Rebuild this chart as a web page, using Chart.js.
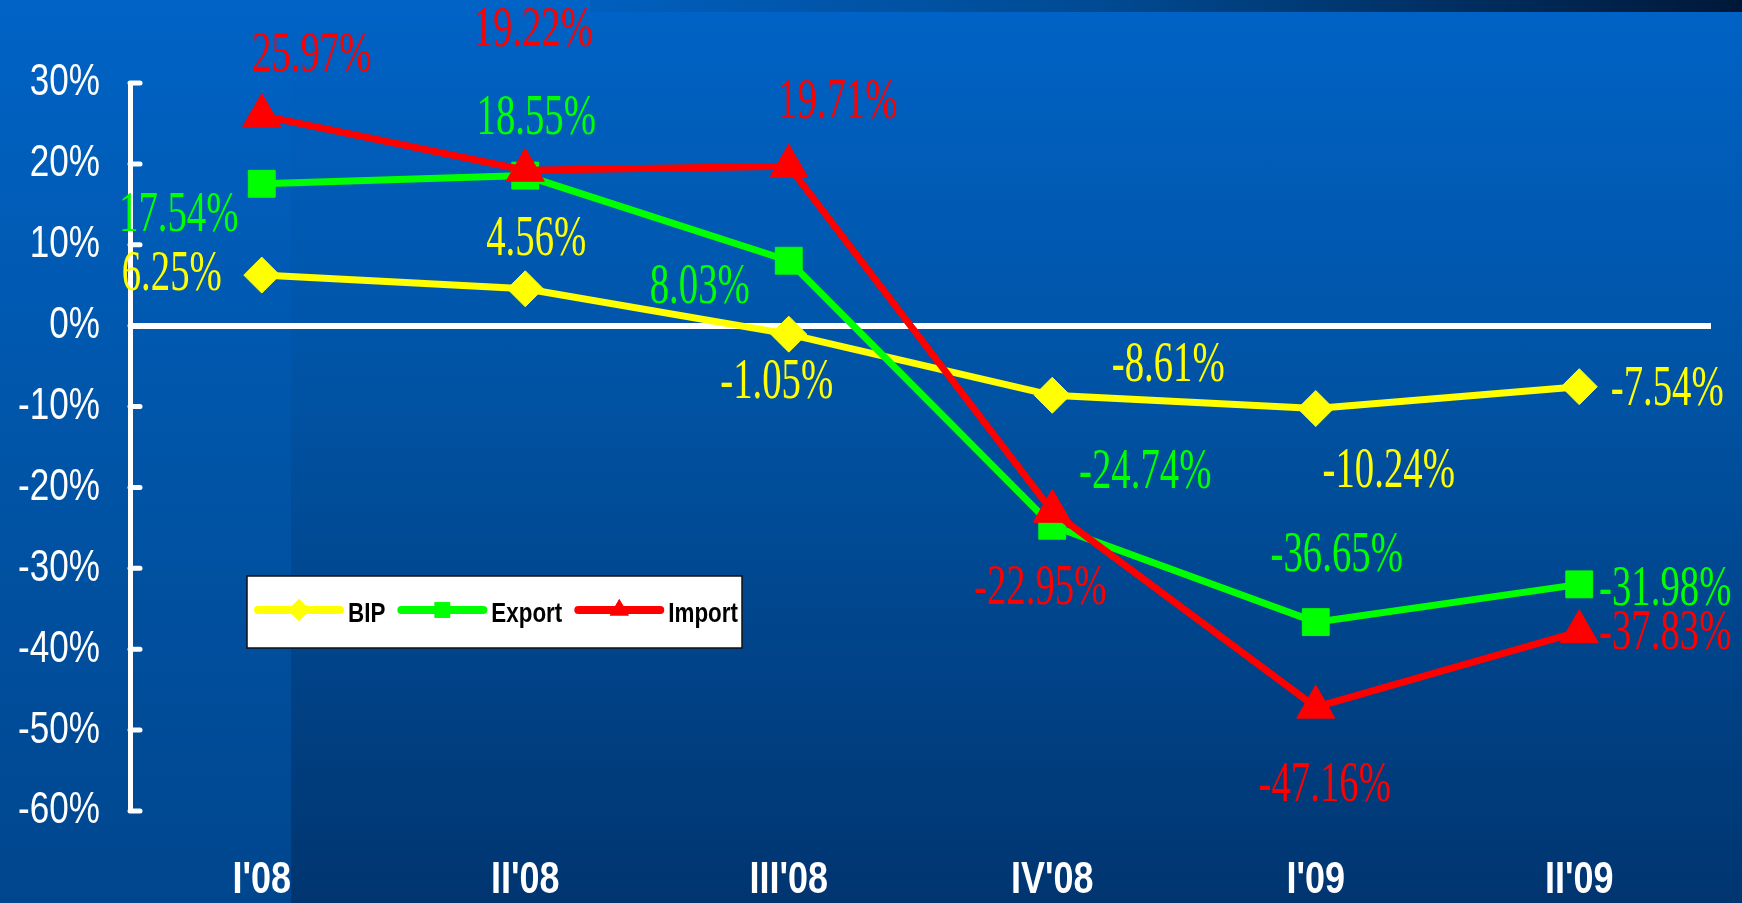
<!DOCTYPE html>
<html>
<head>
<meta charset="utf-8">
<title>BIP, Export, Import</title>
<script src="https://cdn.jsdelivr.net/npm/chart.js@4.4.1/dist/chart.umd.min.js"></script>
<style>
    html, body { margin: 0; padding: 0; }
    body {
        width: 1742px; height: 903px; overflow: hidden; position: relative;
        background: linear-gradient(to bottom, #0063c6 0%, #0052a2 45%, #003570 100%);
    }
    #strip {
        position: absolute; left: 0; top: 0; width: 291px; height: 903px;
        background: linear-gradient(to bottom, #0063c6 0%, #0056aa 45%, #00468e 100%);
    }
    #topbar {
        position: absolute; left: 590px; top: 0; width: 1152px; height: 12px;
        background: linear-gradient(to right, rgba(0, 80, 160, 0.2), #004a92 45%, #001838 100%);
    }
    #wrap { position: absolute; left: 0; top: 0; width: 1742px; height: 903px; }
</style>
</head>
<body>
<div id="strip"></div>
<div id="topbar"></div>
<div id="wrap"><canvas id="growthChart" width="1742" height="903"></canvas></div>
<script>
// Quarterly growth rates
const quarters = ["I'08", "II'08", "III'08", "IV'08", "I'09", "II'09"];
const bipValues = [6.25, 4.56, -1.05, -8.61, -10.24, -7.54];
const exportValues = [17.54, 18.55, 8.03, -24.74, -36.65, -31.98];
const importValues = [25.97, 19.22, 19.71, -22.95, -47.16, -37.83];
const seriesNames = ['BIP', 'Export', 'Import'];
const yMin = -60;
const yMax = 30;
const yStep = 10;

// Where each value label sits relative to its point (px)
const labelOffsets = [
    [[-90, 0], [11, -49], [-12, 49], [116, -29], [73, 64], [88, 3]],
    [[-83, 32], [11, -57], [-89, 27], [93, -53], [21, -66], [86, 6]],
    [[50, -60], [8, -139], [49, -63], [-12, 78], [9, 79], [86, 2]]
];

const sans = '"Liberation Sans", Arial, sans-serif';

// Text squeezed horizontally, like the narrow fonts of the original
function narrowText(ctx, text, x, y, squeeze) {
    ctx.save();
    ctx.translate(x, y);
    ctx.scale(squeeze, 1);
    ctx.fillText(text, 0, 0);
    ctx.restore();
}

// Axis labels and small inward tick stubs
const axisDecor = {
    id: 'axisDecor',
    afterDraw(chart) {
        const ctx = chart.ctx;
        const y = chart.scales.y;
        const x = chart.scales.x;
        const left = chart.chartArea.left;
        ctx.save();
        ctx.strokeStyle = '#ffffff';
        ctx.lineWidth = 5;
        ctx.lineCap = 'round';
        y.ticks.forEach(t => {
            const py = y.getPixelForValue(t.value);
            ctx.beginPath();
            ctx.moveTo(left, py);
            ctx.lineTo(left + 10, py);
            ctx.stroke();
        });

        ctx.fillStyle = '#ffffff';
        ctx.textBaseline = 'middle';
        ctx.textAlign = 'right';
        ctx.font = '45px ' + sans;
        y.ticks.forEach(t => {
            narrowText(ctx, t.value + '%', left - 30, y.getPixelForValue(t.value), 0.78);
        });

        ctx.textAlign = 'center';
        ctx.font = 'bold 45px ' + sans;
        x.ticks.forEach((t, i) => {
            narrowText(ctx, chart.data.labels[i], x.getPixelForTick(i), chart.chartArea.bottom + 70, 0.8);
        });
        ctx.restore();
    }
};

// Condensed serif value labels
const valueLabels = {
    id: 'valueLabels',
    afterDatasetsDraw(chart) {
        const ctx = chart.ctx;
        ctx.save();
        ctx.font = '57px "Liberation Serif", "Times New Roman", serif';
        ctx.textAlign = 'center';
        ctx.textBaseline = 'middle';
        chart.data.datasets.forEach((ds, di) => {
            const meta = chart.getDatasetMeta(di);
            meta.data.forEach((pt, i) => {
                const off = labelOffsets[di][i];
                ctx.fillStyle = ds.borderColor;
                narrowText(ctx, ds.data[i].toFixed(2) + '%', pt.x + off[0], pt.y + off[1], 0.68);
            });
        });
        ctx.restore();
    }
};

// White legend box inside the plot
const boxLegend = {
    id: 'boxLegend',
    afterDraw(chart) {
        const ctx = chart.ctx;
        const box = { x: 247, y: 576, w: 495, h: 72 };
        ctx.save();
        ctx.fillStyle = '#ffffff';
        ctx.fillRect(box.x, box.y, box.w, box.h);
        ctx.strokeStyle = '#111111';
        ctx.lineWidth = 1.5;
        ctx.strokeRect(box.x, box.y, box.w, box.h);
        ctx.beginPath();
        ctx.rect(box.x, box.y, box.w, box.h);
        ctx.clip();

        ctx.font = 'bold 28px ' + sans;
        ctx.textBaseline = 'middle';
        ctx.textAlign = 'left';
        let x = box.x + 11;
        const cy = box.y + box.h / 2;
        chart.data.datasets.forEach(ds => {
            ctx.strokeStyle = ds.borderColor;
            ctx.lineWidth = 8;
            ctx.lineCap = 'round';
            ctx.beginPath();
            ctx.moveTo(x, cy - 2);
            ctx.lineTo(x + 82, cy - 2);
            ctx.stroke();
            ctx.fillStyle = ds.borderColor;
            Chart.helpers.drawPoint(ctx, {
                pointStyle: ds.pointStyle,
                radius: 11,
                rotation: 0,
                borderWidth: 0
            }, x + 41, cy - 2);
            ctx.fill();
            x += 90;
            ctx.fillStyle = '#000000';
            narrowText(ctx, ds.label, x, cy + 2, 0.8);
            x += ctx.measureText(ds.label).width * 0.8 + 16;
        });
        ctx.restore();
    }
};

function makeSeries(label, values, color, style, radius, order) {
    return {
        label: label,
        data: values,
        borderColor: color,
        backgroundColor: color,
        borderWidth: 7,
        pointStyle: style,
        pointRadius: radius,
        pointHoverRadius: radius,
        pointBorderWidth: 1,
        pointBorderColor: color,
        pointBackgroundColor: color,
        tension: 0,
        order: order
    };
}

const ctx = document.getElementById('growthChart').getContext('2d');
new Chart(ctx, {
    type: 'line',
    data: {
        labels: quarters,
        datasets: [
            makeSeries(seriesNames[0], bipValues, '#ffff00', 'rectRot', 18, 3),
            makeSeries(seriesNames[1], exportValues, '#00ff00', 'rect', 19, 2),
            makeSeries(seriesNames[2], importValues, '#ff0000', 'triangle', 22, 1)
        ]
    },
    options: {
        responsive: false,
        animation: false,
        layout: { padding: { left: 0, right: 31, top: 83, bottom: 0 } },
        plugins: {
            legend: { display: false },
            tooltip: { enabled: false }
        },
        scales: {
            x: {
                offset: true,
                grid: { display: false },
                border: { display: false },
                ticks: { display: false },
                afterFit(scale) {
                    scale.height = 92;
                    scale.paddingLeft = 0;
                    scale.paddingRight = 0;
                }
            },
            y: {
                min: yMin,
                max: yMax,
                ticks: { display: false, stepSize: yStep },
                grid: {
                    drawTicks: false,
                    color: c => c.tick && c.tick.value === 0 ? '#ffffff' : 'rgba(0,0,0,0)',
                    lineWidth: c => c.tick && c.tick.value === 0 ? 6 : 0
                },
                border: { display: true, color: '#ffffff', width: 5 },
                afterFit(scale) {
                    scale.width = 130;
                    scale.paddingTop = 0;
                    scale.paddingBottom = 0;
                }
            }
        }
    },
    plugins: [axisDecor, valueLabels, boxLegend]
});
</script>
</body>
</html>
